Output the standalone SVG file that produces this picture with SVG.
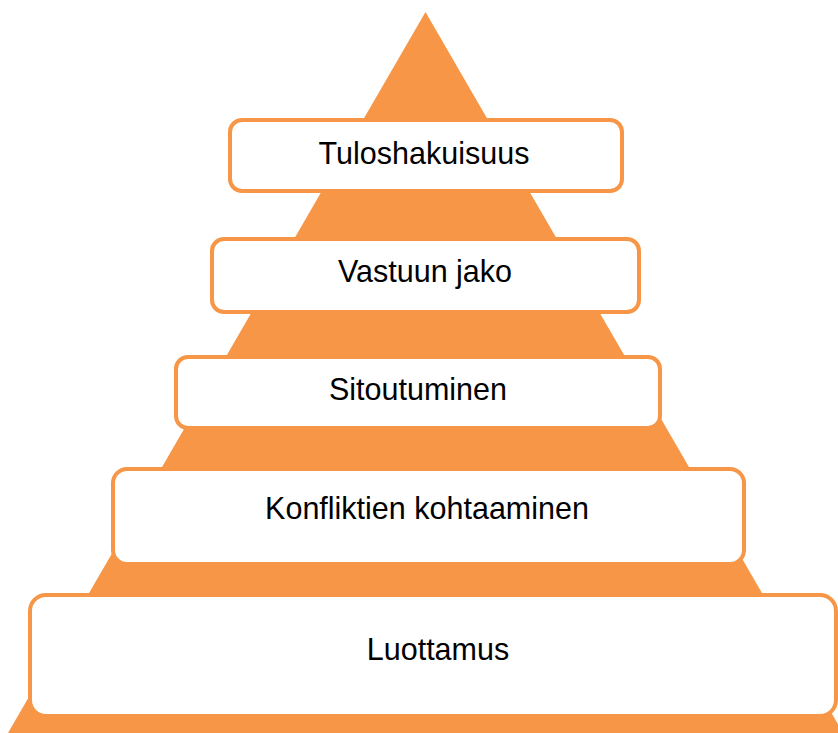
<svg xmlns="http://www.w3.org/2000/svg" width="838" height="733" viewBox="0 0 838 733">
  <style>
    .tier { fill: #ffffff; stroke: #F79646; stroke-width: 4; }
    .label { font-family: "Liberation Sans", Arial, sans-serif; font-size: 30.5px; fill: #000000; text-anchor: middle; }
  </style>
  <rect width="838" height="733" fill="#ffffff"/>
  <!-- pyramid background -->
  <polygon id="pyramid" points="425.5,12 8,733 843,733" fill="#F79646"/>
  <g id="tier-1">
    <rect class="tier" x="230" y="120" width="392" height="71" rx="12"/>
    <text class="label" x="424" y="164">Tuloshakuisuus</text>
  </g>
  <g id="tier-2">
    <rect class="tier" x="212" y="239" width="427" height="73" rx="12"/>
    <text class="label" x="425" y="282">Vastuun jako</text>
  </g>
  <g id="tier-3">
    <rect class="tier" x="176" y="357" width="484" height="71" rx="12"/>
    <text class="label" x="418" y="400">Sitoutuminen</text>
  </g>
  <g id="tier-4">
    <rect class="tier" x="113" y="469" width="631" height="95" rx="14"/>
    <text class="label" x="427" y="519">Konfliktien kohtaaminen</text>
  </g>
  <g id="tier-5">
    <rect class="tier" x="30" y="595" width="806" height="121" rx="16"/>
    <text class="label" x="438" y="660">Luottamus</text>
  </g>
  <g id="connectors"/>
</svg>
